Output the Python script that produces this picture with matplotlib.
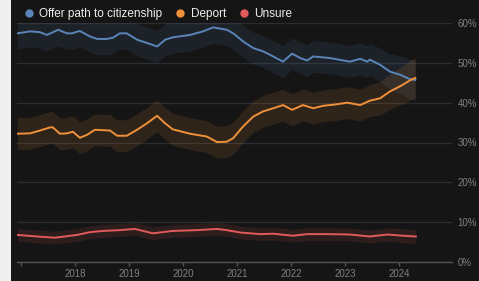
import numpy as np
import matplotlib.pyplot as plt
from matplotlib.lines import Line2D
from matplotlib.patches import Rectangle

plt.rcParams['font.family'] = ['Liberation Sans', 'DejaVu Sans']

# Offer path to citizenship
cit_dates = [2016.93, 2017.17, 2017.35, 2017.48, 2017.69, 2017.85, 2017.94, 2018.09,
             2018.28, 2018.41, 2018.59, 2018.70, 2018.83, 2018.96, 2019.15, 2019.33,
             2019.52, 2019.67, 2019.81, 2020.13, 2020.37, 2020.56, 2020.81, 2020.93,
             2021.11, 2021.30, 2021.48, 2021.67, 2021.85, 2022.02, 2022.17, 2022.30,
             2022.41, 2022.72, 2023.09, 2023.28, 2023.41, 2023.46, 2023.65, 2023.83,
             2024.02, 2024.20, 2024.30]
cit_vals = [57.4, 57.9, 57.7, 57.0, 58.3, 57.4, 57.4, 58.0,
            56.6, 56.0, 56.0, 56.3, 57.4, 57.4, 55.8, 55.0,
            54.1, 55.8, 56.4, 57.0, 57.9, 58.9, 58.3, 57.4,
            55.4, 53.7, 52.9, 51.6, 50.3, 52.3, 51.2, 50.6,
            51.6, 51.2, 50.3, 51.0, 50.3, 50.8, 49.5, 47.8,
            47.0, 45.9, 45.7]

# Deport
dep_dates = [2016.93, 2017.17, 2017.35, 2017.54, 2017.59, 2017.72, 2017.85, 2017.96,
             2018.09, 2018.22, 2018.37, 2018.65, 2018.78, 2018.96, 2019.15, 2019.33,
             2019.52, 2019.67, 2019.81, 2020.13, 2020.44, 2020.63, 2020.81, 2020.93,
             2021.11, 2021.30, 2021.48, 2021.67, 2021.85, 2022.02, 2022.22, 2022.41,
             2022.59, 2022.85, 2023.04, 2023.28, 2023.46, 2023.65, 2023.83, 2023.96,
             2024.07, 2024.20, 2024.30]
dep_vals = [32.2, 32.3, 33.0, 33.8, 33.8, 32.2, 32.3, 32.7,
            31.2, 31.9, 33.2, 33.0, 31.7, 31.7, 33.2, 34.8,
            36.7, 34.8, 33.3, 32.2, 31.5, 30.1, 30.2, 31.1,
            34.0, 36.5, 37.8, 38.6, 39.4, 38.2, 39.4, 38.6,
            39.2, 39.6, 40.0, 39.4, 40.5, 41.1, 42.8, 43.7,
            44.5, 45.6, 46.2]

# Unsure
uns_dates = [2016.93, 2017.30, 2017.63, 2018.04, 2018.28, 2018.52, 2018.83, 2019.11,
             2019.44, 2019.81, 2020.26, 2020.63, 2020.81, 2021.06, 2021.43, 2021.67,
             2022.04, 2022.30, 2022.67, 2023.09, 2023.46, 2023.78, 2024.07, 2024.31]
uns_vals = [6.8, 6.4, 6.1, 6.8, 7.5, 7.8, 8.0, 8.3,
            7.2, 7.8, 8.0, 8.3, 8.0, 7.4, 7.0, 7.1,
            6.6, 7.0, 7.0, 6.9, 6.4, 6.9, 6.6, 6.4]

# margin of error (half width of the shaded band)
moe_dates = [2016.9, 2023.5, 2024.35]
moe_main = [4.0, 4.0, 5.2]
moe_unsure = [1.6, 1.6, 1.8]

labels = ['Offer path to citizenship', 'Deport', 'Unsure']
colors = ['#5a85b8', '#f0913a', '#e35a5c']
years = [2017, 2018, 2019, 2020, 2021, 2022, 2023, 2024]
year_labels = ['', '2018', '2019', '2020', '2021', '2022', '2023', '2024']
yticks = [0, 10, 20, 30, 40, 50, 60]

bg = '#151515'
fig = plt.figure(figsize=(4.79, 2.81), dpi=100, facecolor=bg)
fig.patches.append(Rectangle((0, 0), 11 / 479, 1, transform=fig.transFigure,
                             facecolor='#efefef', edgecolor='none', zorder=0))
ax = fig.add_axes([17 / 479, 1 - 262 / 281, 435 / 479, 239 / 281])
ax.set_facecolor(bg)

series = [(cit_dates, cit_vals, moe_main), (dep_dates, dep_vals, moe_main),
          (uns_dates, uns_vals, moe_unsure)]
for (d, v, m), c, lab in zip(series, colors, labels):
    d = np.array(d)
    v = np.array(v)
    w = np.interp(d, moe_dates, m)
    ax.fill_between(d, v - w, v + w, color=c, alpha=0.12, lw=0, zorder=2)
    ax.plot(d, v, color=c, lw=1.4, zorder=3, label=lab)

ax.set_xlim(2016.926, 2024.98)
ax.set_ylim(0, 60)
for y in yticks[1:]:
    ax.axhline(y, color='#2a2d33', lw=1, zorder=1)

for s in ['top', 'left', 'right']:
    ax.spines[s].set_visible(False)
ax.spines['bottom'].set_color('#555555')
ax.spines['bottom'].set_linewidth(1)

ax.set_xticks(years)
ax.set_xticklabels(year_labels)
ax.tick_params(axis='x', colors='#555555', length=3, width=1, labelsize=7,
               labelcolor='#808080', pad=2)
ax.yaxis.tick_right()
ax.set_yticks(yticks)
ax.set_yticklabels([f'{t}%' for t in yticks])
ax.tick_params(axis='y', length=0, labelsize=7, labelcolor='#808080', pad=4)

handles = [Line2D([], [], ls='none', marker='o', ms=5, color=c) for c in colors]
fig.legend(handles, labels, loc='center left', bbox_to_anchor=(24 / 479, 1 - 14 / 281),
           ncol=3, frameon=False, fontsize=8.5, labelcolor='#eeeeee',
           handlelength=0.8, handletextpad=0.5, columnspacing=1.1,
           borderpad=0, borderaxespad=0)

fig.savefig('out.png', dpi=100, facecolor=bg)
